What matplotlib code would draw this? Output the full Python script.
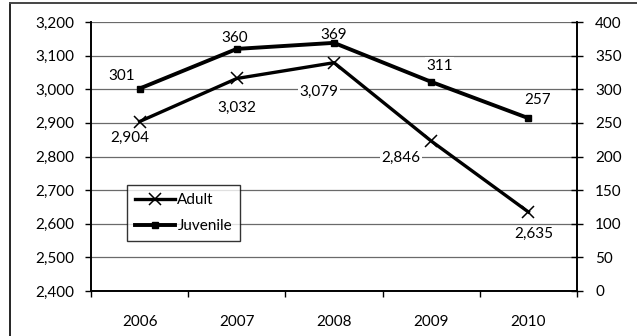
import matplotlib
matplotlib.use("Agg")
import matplotlib.pyplot as plt
from matplotlib.lines import Line2D

# Arrest counts by year
years = ["2006", "2007", "2008", "2009", "2010"]
adult = [2904, 3032, 3079, 2846, 2635]
juvenile = [301, 360, 369, 311, 257]

left_ticks = [2400, 2500, 2600, 2700, 2800, 2900, 3000, 3100, 3200]
right_ticks = [0, 50, 100, 150, 200, 250, 300, 350, 400]

# label offsets (points) relative to each marker
adult_offsets = [(-7, -12), (0, -21), (-11, -21), (-22, -12), (4, -16)]
juv_offsets = [(-13, 9), (-1.5, 8), (0, 6), (6, 11.5), (6.5, 13)]

FS = 11
plt.rcParams["font.family"] = ["Lato", "DejaVu Sans"]
plt.rcParams["font.size"] = FS

fig = plt.figure(figsize=(6.37, 3.36), dpi=100)
ax = fig.add_axes([91 / 637, 1 - 291 / 336, 486 / 637, 269 / 336])
ax2 = ax.twinx()

x = list(range(len(years)))

# gridlines
ax.set_ylim(2400, 3200)
ax.set_yticks(left_ticks)
ax.set_yticklabels([f"{v:,}" for v in left_ticks])
ax.grid(axis="y", color="#6a6a6a", lw=0.9)
ax.set_axisbelow(True)

ax.set_xlim(-0.5, len(years) - 0.5)
ax.set_xticks([i - 0.5 for i in range(len(years) + 1)])
ax.set_xticklabels([])
ax.set_xticks(x, minor=True)
ax.set_xticklabels(years, minor=True)
ax.tick_params(axis="x", which="major", direction="out", length=4, width=1)
ax.tick_params(axis="x", which="minor", length=0, pad=17)
ax.tick_params(axis="y", direction="out", length=4, width=1, pad=8)

ax2.set_ylim(0, 400)
ax2.set_yticks(right_ticks)
ax2.tick_params(axis="y", direction="inout", length=8, width=1, pad=9)

for a in (ax, ax2):
    a.spines["top"].set_visible(False)
    for s in ("left", "right", "bottom"):
        a.spines[s].set_linewidth(1.2)
        a.spines[s].set_color("black")

la, = ax.plot(x, adult, color="black", lw=2.4, marker="x", ms=9, mew=1.1,
              zorder=3)
lj, = ax2.plot(x, juvenile, color="black", lw=2.8, marker="s", ms=4,
               zorder=3)

bbox = dict(boxstyle="square,pad=0.1", fc="white", ec="none")
for i, (v, off) in enumerate(zip(adult, adult_offsets)):
    ax.annotate(f"{v:,}", (i, v), xytext=off, textcoords="offset points",
                ha="center", va="center", fontsize=FS, bbox=bbox, zorder=2)
for i, (v, off) in enumerate(zip(juvenile, juv_offsets)):
    ax2.annotate(f"{v}", (i, v), xytext=off, textcoords="offset points",
                 ha="center", va="center", fontsize=FS, bbox=bbox, zorder=2)

leg = ax2.legend([la, lj], ["Adult", "Juvenile"],
                 loc="upper left", bbox_to_anchor=(127 / 637, 1 - 185 / 336),
                 bbox_transform=fig.transFigure, borderaxespad=0,
                 frameon=True, fancybox=False, handlelength=2.6,
                 handletextpad=0.15, labelspacing=0.75, borderpad=0.55,
                 fontsize=FS)
leg.get_frame().set_edgecolor("black")
leg.get_frame().set_linewidth(1.0)

# outer frame edges
fig.add_artist(Line2D([10 / 637, 10 / 637], [0, 1 - 3 / 336],
                      transform=fig.transFigure, color="black", lw=1.2))
fig.add_artist(Line2D([10 / 637, 1], [1 - 3 / 336, 1 - 3 / 336],
                      transform=fig.transFigure, color="#444444", lw=1.4))

fig.savefig("out.png", dpi=100)
